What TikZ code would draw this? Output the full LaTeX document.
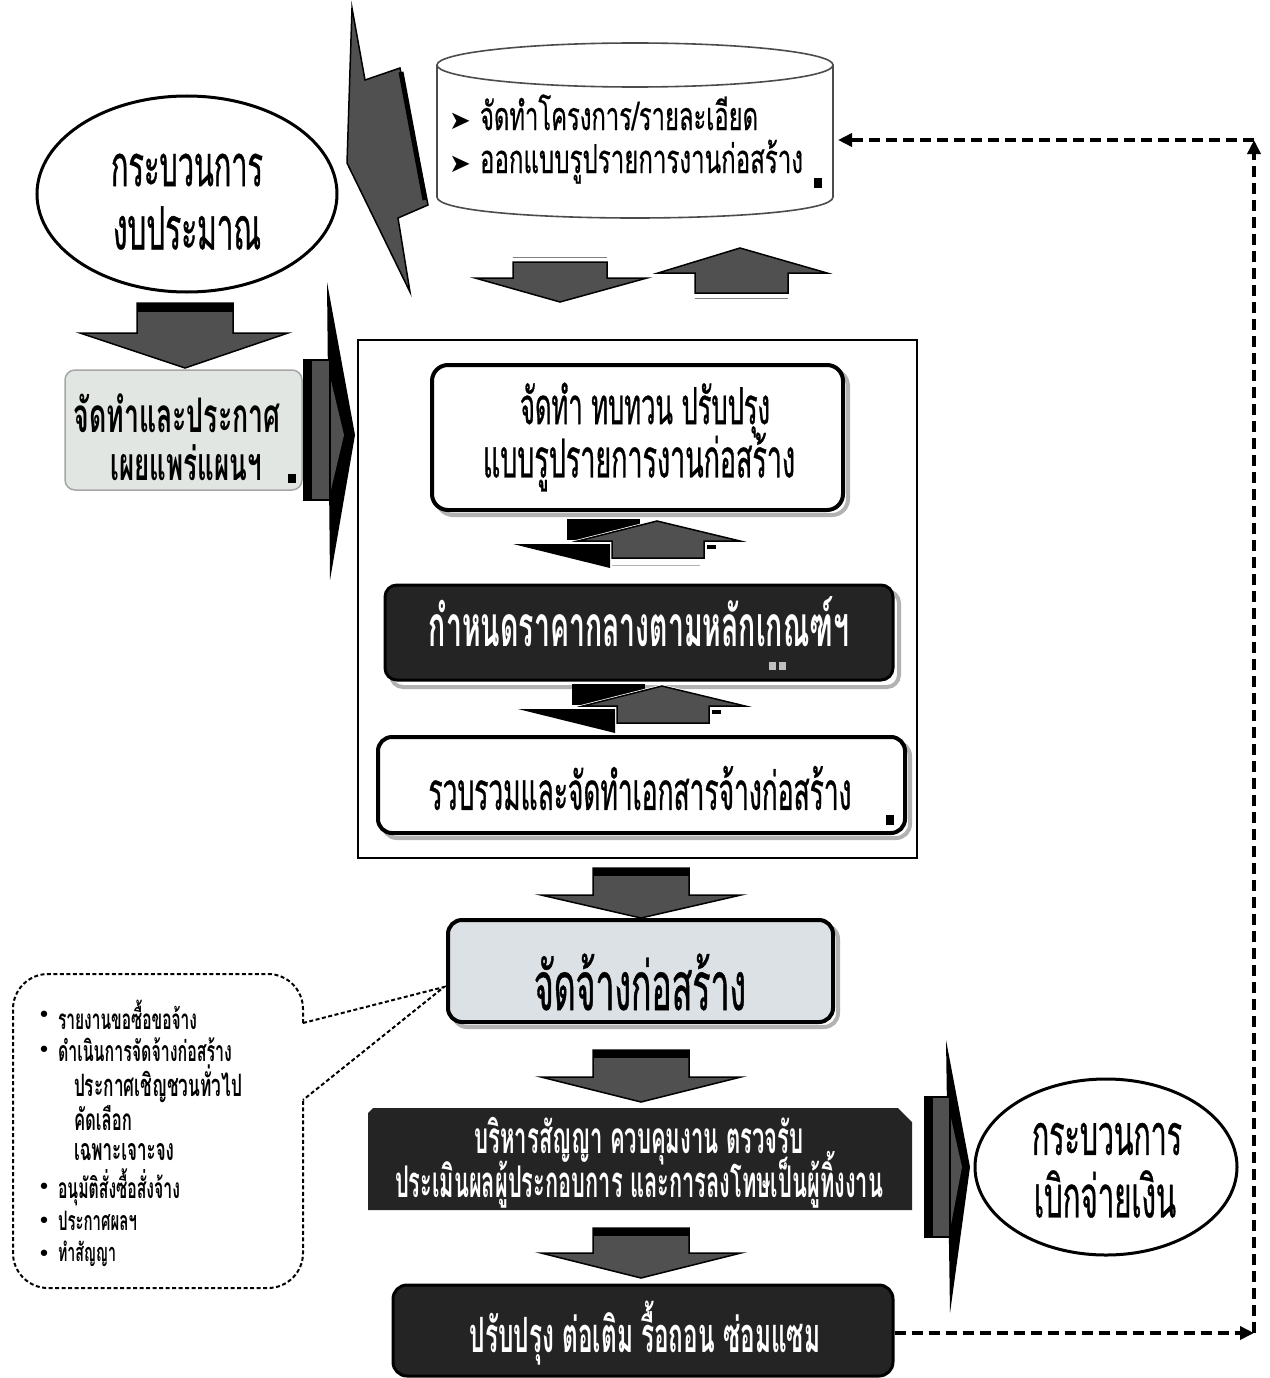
\documentclass[tikz,border=0pt]{standalone}
\usepackage{fontspec}
\usepackage{graphicx}
\usetikzlibrary{arrows.meta,calc,shapes.geometric}
\newfontfamily\thr[Script=Thai,FakeStretch=0.5,FakeBold=0.6]{Loma}
\newfontfamily\thb[Script=Thai,FakeStretch=0.5]{Loma Bold}
\newfontfamily\thc[Script=Thai,FakeStretch=0.6,FakeBold=0.4]{Loma}
\newfontfamily\thd[Script=Thai,FakeStretch=0.56]{Loma Bold}
\newfontfamily\symf{DejaVu Sans}
\newcommand\fw[2]{\resizebox{#1pt}{!}{#2}}
\newcommand\bul{{\symf\fontsize{22}{22}\selectfont •}}
\definecolor{agray}{HTML}{505050}
\definecolor{dbox}{HTML}{242424}
\definecolor{lbox}{HTML}{E1E6E3}
\definecolor{lboxb}{HTML}{DCE1E5}
\tikzset{
  blockarrow/.style={fill=agray,draw=black,line width=1.5pt,line join=miter},
  txt/.style={inner sep=0pt,outer sep=0pt},
  whitebox/.style={draw=black,line width=4pt,fill=white,rounded corners=16pt,inner sep=0pt},
  darkbox/.style={draw=black,line width=3pt,fill=dbox,rounded corners=12pt,inner sep=0pt},
  shadowbox/.style={draw=gray!60,line width=4pt,fill=white,rounded corners=16pt},
  flow/.style={line width=3.5pt,dash pattern=on 11pt off 6pt,-{Triangle[length=14pt,width=13pt]}},
  callout/.style={line width=2pt,dash pattern=on 4pt off 2.5pt},
  procell/.style={ellipse,draw=black,line width=3pt,inner sep=0pt},
  cylst/.style={draw=black!70,line width=1.6pt},
  sqmark/.style={fill=black},
  twoline/.style={txt,align=left,font=\fontsize{10}{#1}\selectfont,
     execute at begin node={\lineskiplimit=-200pt\lineskip=0pt}},
}
\begin{document}
\begin{tikzpicture}[x=1pt,y=-1pt]
\useasboundingbox (0,0) rectangle (1269,1378);
\fill[white] (0,0) rectangle (1269,1378);

% ---------- left column ----------
\node[procell,minimum width=300pt,minimum height=196pt] (e1) at (187,194) {};
\node[txt] (e1a) at (187,170) {\fw{152}{\thr กระบวนการ}};
\node[txt] (e1b) at (187,228) {\fw{148}{\thr งบประมาณ}};

% down arrow under ellipse
\draw[blockarrow] (137,303) -- (233,303) -- (233,333) -- (288,333) -- (185,368) -- (80,333) -- (137,333) -- cycle;
\fill (137,303) rectangle (233,312);

\node[draw=gray!70,line width=1.5pt,fill=lbox,rounded corners=10pt,minimum width=237pt,minimum height=120pt,inner sep=0pt] (b0) at (183.5,430) {};
\node[txt] (b0a) at (177,413) {\fw{207}{\thd จัดทำและประกาศ}};
\node[txt] (b0b) at (186,463) {\fw{151}{\thd เผยแพร่แผนฯ}};
\fill[sqmark] (288,474) rectangle (296,483);

% right arrow into frame
\fill[black] (327,282) -- (355,435) -- (330,580) -- cycle;
\fill[agray] (307,360) rectangle (330,500);
\fill[agray] (328,368) -- (344,435) -- (330,494) -- cycle;
\fill[black] (304,360) rectangle (312,500);
\draw[black,line width=1.2pt] (304,360) rectangle (330,500);

% tilted double arrow between ellipse and cylinder
\draw[blockarrow] (352,8) -- (365,80) -- (400,68) -- (428,205) -- (398,218) -- (410,292) -- (347,163) -- cycle;
\draw[line width=5pt] (401,72) -- (425,200);

% ---------- cylinder ----------
\draw[cylst,fill=white] (437,65) -- (437,197) .. controls (437,225) and (833,225) .. (833,197) -- (833,65);
\draw[cylst,fill=white] (635,65) ellipse [x radius=198, y radius=22];
\node[inner sep=0pt,minimum width=396pt,minimum height=176pt] (cyl) at (635,130) {};
\node[txt] (cb1) at (460,121) {\symf\fontsize{26}{26}\selectfont ➤};
\node[txt] (cb2) at (460,164) {\symf\fontsize{26}{26}\selectfont ➤};
\node[twoline=43,anchor=west] (cl) at (480,139) {\fw{278}{\thc จัดทำโครงการ/รายละเอียด}\\\fw{323}{\thc ออกแบบรูปรายการงานก่อสร้าง}};
\fill[sqmark] (814,178) rectangle (822,188);

% arrows under cylinder
\draw[gray,line width=1pt] (513,257) -- (607,257);
\draw[blockarrow] (513,262) -- (607,262) -- (607,278) -- (647,278) -- (560,302) -- (475,278) -- (513,278) -- cycle;
\draw[blockarrow] (740,248) -- (827,273) -- (788,273) -- (788,293) -- (695,293) -- (695,273) -- (658,273) -- cycle;
\draw[gray,line width=1pt] (695,298) -- (788,298);

% ---------- frame ----------
\node[draw=black,line width=1.5pt,minimum width=559pt,minimum height=518pt,inner sep=0pt] (frame) at (637.5,599) {};

% box 1
\draw[shadowbox] (437,370) rectangle (848,515);
\node[whitebox,minimum width=411pt,minimum height=145pt] (b1) at (637.5,437.5) {};
\node[txt] (b1a) at (645,410) {\fw{250}{\thr จัดทำ ทบทวน ปรับปรุง}};
\node[txt] (b1b) at (639,462) {\fw{312}{\thr แบบรูปรายการงานก่อสร้าง}};

% pair arrows 1
\fill[black] (567,519) rectangle (640,540);
\fill[black] (513,544) -- (610,544) -- (610,568) -- cycle;
\draw[blockarrow,draw=white,line width=3pt] (578,541) -- (657,521) -- (740,541) -- (704,541) -- (704,558) -- (612,558) -- (612,541) -- cycle;
\draw[blockarrow] (578,541) -- (657,521) -- (740,541) -- (704,541) -- (704,558) -- (612,558) -- (612,541) -- cycle;
\fill[black] (707,545) rectangle (716,549);
\draw[gray!60,line width=1pt] (612,565) -- (700,565);

% box 2 (dark)
\draw[shadowbox,rounded corners=12pt] (391,591) rectangle (899,687);
\node[darkbox,minimum width=508pt,minimum height=95pt] (b2) at (639,632.5) {};
\node[txt,text=white] (b2a) at (639,622) {\fw{420}{\thb กำหนดราคากลางตามหลักเกณฑ์ฯ}};
\fill[gray!50] (769,662) rectangle (776,670);
\fill[gray!50] (779,662) rectangle (786,670);

% pair arrows 2
\fill[black] (572,684) rectangle (645,705);
\fill[black] (518,709) -- (615,709) -- (615,733) -- cycle;
\draw[blockarrow,draw=white,line width=3pt] (583,706) -- (662,686) -- (745,706) -- (709,706) -- (709,723) -- (617,723) -- (617,706) -- cycle;
\draw[blockarrow] (583,706) -- (662,686) -- (745,706) -- (709,706) -- (709,723) -- (617,723) -- (617,706) -- cycle;
\fill[black] (712,710) rectangle (721,714);

% box 3
\draw[shadowbox,rounded corners=14pt] (383,742) rectangle (910,838);
\node[whitebox,rounded corners=14pt,minimum width=527pt,minimum height=96pt] (b3) at (641.5,785) {};
\node[txt] (b3a) at (640,788) {\fw{423}{\thr รวบรวมและจัดทำเอกสารจ้างก่อสร้าง}};
\fill[sqmark] (886,815) rectangle (894,825);

% ---------- lower column ----------
\draw[blockarrow] (593,868) -- (689,868) -- (689,895) -- (741,895) -- (641,918) -- (541,895) -- (593,895) -- cycle;
\fill (593,868) rectangle (689,876);

\draw[shadowbox,rounded corners=14pt] (453,925) rectangle (838,1027);
\node[draw=black,line width=4pt,fill=lboxb,rounded corners=14pt,minimum width=385pt,minimum height=102pt,inner sep=0pt] (b4) at (640.5,971) {};
\node[txt] (b4a) at (640,982) {\fw{212}{\thr จัดจ้างก่อสร้าง}};

\draw[blockarrow] (593,1050) -- (689,1050) -- (689,1077) -- (741,1077) -- (641,1102) -- (541,1077) -- (593,1077) -- cycle;
\fill (593,1050) rectangle (689,1058);

\fill[dbox] (368,1113) -- (373,1108) -- (898,1108) -- (912,1122) -- (912,1210) -- (368,1210) -- cycle;
\node[inner sep=0pt,minimum width=544pt,minimum height=102pt] (b5) at (640,1159) {};
\node[twoline=44,align=center,text=white] (b5t) at (639,1163) {\fw{329}{\thb บริหารสัญญา ควบคุมงาน ตรวจรับ}\\\fw{488}{\thb ประเมินผลผู้ประกอบการ และการลงโทษเป็นผู้ทิ้งงาน}};

\draw[blockarrow] (593,1228) -- (689,1228) -- (689,1253) -- (741,1253) -- (641,1278) -- (541,1253) -- (593,1253) -- cycle;
\fill (593,1228) rectangle (689,1236);

\node[darkbox,rounded corners=14pt,minimum width=500pt,minimum height=91pt] (b6) at (643,1330.5) {};
\node[txt,text=white] (b6a) at (645,1333) {\fw{350}{\thb ปรับปรุง ต่อเติม รื้อถอน ซ่อมแซม}};

% right arrow to disbursement
\fill[black] (946,1040) -- (970,1167) -- (950,1313) -- cycle;
\fill[agray] (927,1097) rectangle (950,1237);
\fill[agray] (948,1105) -- (962,1167) -- (950,1230) -- cycle;
\fill[black] (925,1097) rectangle (933,1237);
\draw[black,line width=1.2pt] (925,1097) rectangle (950,1237);

\node[procell,minimum width=262pt,minimum height=176pt] (e2) at (1106,1167) {};
\node[txt] (e2a) at (1107,1139) {\fw{150}{\thr กระบวนการ}};
\node[txt] (e2b) at (1105,1194) {\fw{142}{\thr เบิกจ่ายเงิน}};

% ---------- feedback dashed loop ----------
\coordinate (cBR) at (1254,1333);
\coordinate (cTR) at (1254,140);
\coordinate (cylIn) at (838,140);
\draw[flow] (b6.east |- cBR) -- (cBR);
\draw[flow] (cBR) -- (cTR);
\draw[flow] (cTR) -- (cylIn);

% ---------- callout ----------
\coordinate (ctip) at (444,987);
\draw[callout,rounded corners=35pt] (303,1023) -- (303,974) -- (13,974) -- (13,1288) -- (303,1288) -- (303,1100);
\draw[callout] (303,1023) -- (ctip) -- (303,1100);
\node[txt] (k1) at (44,1017) {\bul};
\node[txt,anchor=west] (c1) at (58,1015) {\fw{139}{\thd รายงานขอซื้อขอจ้าง}};
\node[txt] (k2) at (44,1052) {\bul};
\node[txt,anchor=west] (c2) at (58,1050) {\fw{174}{\thd ดำเนินการจัดจ้างก่อสร้าง}};
\node[txt,anchor=west] (c3) at (74,1084) {\fw{168}{\thd ประกาศเชิญชวนทั่วไป}};
\node[txt,anchor=west] (c4) at (74,1118) {\fw{58}{\thd คัดเลือก}};
\node[txt,anchor=west] (c5) at (74,1152) {\fw{100}{\thd เฉพาะเจาะจง}};
\node[txt] (k6) at (44,1189) {\bul};
\node[txt,anchor=west] (c6) at (58,1187) {\fw{122}{\thd อนุมัติสั่งซื้อสั่งจ้าง}};
\node[txt] (k7) at (44,1223) {\bul};
\node[txt,anchor=west] (c7) at (58,1221) {\fw{79}{\thd ประกาศผลฯ}};
\node[txt] (k8) at (44,1256) {\bul};
\node[txt,anchor=west] (c8) at (58,1254) {\fw{58}{\thd ทำสัญญา}};
\end{tikzpicture}
\end{document}
